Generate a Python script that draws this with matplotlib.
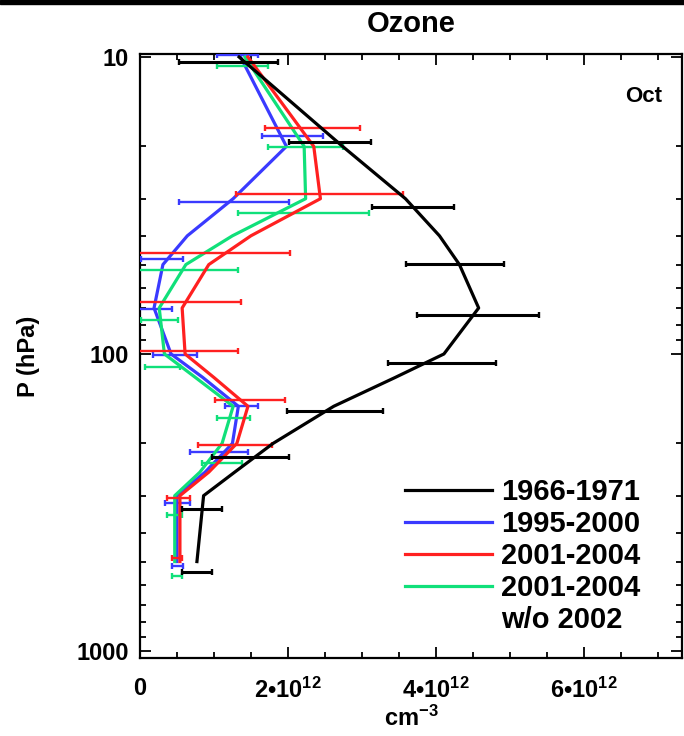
import matplotlib
matplotlib.use("Agg")
import matplotlib.pyplot as plt
import numpy as np
from matplotlib.lines import Line2D
from matplotlib.ticker import FixedLocator, NullFormatter

plt.rcParams["font.family"] = ["Liberation Sans", "DejaVu Sans"]
plt.rcParams["font.weight"] = "bold"
plt.rcParams["axes.titleweight"] = "bold"
plt.rcParams["axes.labelweight"] = "bold"
plt.rcParams["mathtext.fontset"] = "custom"
plt.rcParams["mathtext.rm"] = "Liberation Sans:bold"
plt.rcParams["mathtext.bf"] = "Liberation Sans:bold"
plt.rcParams["mathtext.default"] = "rm"

# pressure levels of the profiles (hPa) and ozone number density (1e12 cm^-3)
levels = [10, 20, 30, 40, 50, 70, 100, 120, 150, 200, 250, 300, 500]
ozone_1966 = [1.34, 2.74, 3.59, 4.05, 4.32, 4.58, 4.11, 3.45, 2.62, 1.80, 1.28, 0.86, 0.77]
ozone_1995 = [1.36, 1.98, 1.26, 0.64, 0.31, 0.19, 0.42, 0.85, 1.33, 1.25, 0.88, 0.50, 0.50]
ozone_2001 = [1.46, 2.35, 2.44, 1.50, 0.93, 0.57, 0.61, 1.00, 1.46, 1.31, 0.93, 0.54, 0.54]
ozone_2001_no02 = [1.42, 2.22, 2.24, 1.25, 0.62, 0.26, 0.33, 0.75, 1.26, 1.11, 0.81, 0.47, 0.47]

# error bars: pressure, low end, high end
err_p_1966 = [10.4, 19.3, 32, 49.8, 74, 107, 156, 222, 333, 541]
err_lo_1966 = [0.53, 2.02, 3.14, 3.60, 3.75, 3.36, 1.99, 0.98, 0.57, 0.57]
err_hi_1966 = [1.87, 3.12, 4.24, 4.92, 5.39, 4.81, 3.29, 2.02, 1.11, 0.98]

err_p_1995 = [9.85, 18.5, 30.8, 47.8, 70.5, 101, 150, 213, 318, 516]
err_lo_1995 = [1.04, 1.65, 0.53, 0.02, -0.05, 0.18, 1.15, 0.68, 0.34, 0.43]
err_hi_1995 = [1.60, 2.48, 2.02, 0.58, 0.43, 0.77, 1.60, 1.46, 0.68, 0.58]

err_p_2001 = [17.3, 29.0, 45.6, 66.9, 97.5, 143, 203, 305, 485]
err_lo_2001 = [1.69, 1.30, -0.17, -0.22, -0.11, 1.02, 0.79, 0.36, 0.43]
err_hi_2001 = [2.98, 3.56, 2.03, 1.36, 1.33, 1.96, 1.79, 0.68, 0.57]

err_p_no02 = [10.7, 20.1, 33.5, 52.2, 76.6, 111, 164, 233, 349, 561]
err_lo_no02 = [1.04, 1.73, 1.33, -0.09, 0.01, 0.07, 1.04, 0.84, 0.37, 0.43]
err_hi_no02 = [1.73, 2.74, 3.10, 1.33, 0.51, 0.54, 1.49, 1.38, 0.57, 0.57]

labels = ["1966-1971", "1995-2000", "2001-2004", "2001-2004"]
colors = ["black", "#3a3aff", "#ff2020", "#10e07a"]

x_ticks = [0, 2, 4, 6]
x_ticklabels = ["0", "2•10$^{12}$", "4•10$^{12}$", "6•10$^{12}$"]
y_ticks = [10, 100, 1000]
y_ticklabels = ["10", "100", "1000"]

fig = plt.figure(figsize=(6.84, 7.36), dpi=100)
ax = fig.add_axes([140 / 684, 1 - 658 / 736, 542 / 684, 604 / 736])

profiles = [ozone_1966, ozone_1995, ozone_2001, ozone_2001_no02]
errs = [
    (err_p_1966, err_lo_1966, err_hi_1966),
    (err_p_1995, err_lo_1995, err_hi_1995),
    (err_p_2001, err_lo_2001, err_hi_2001),
    (err_p_no02, err_lo_no02, err_hi_no02),
]
zorders = [5, 3, 4, 3.5]

for prof, (ep, lo, hi), col, z in zip(profiles, errs, colors, zorders):
    ax.plot(prof, levels, color=col, lw=2.3, zorder=z)
    lo = np.array(lo)
    hi = np.array(hi)
    mid = (lo + hi) / 2
    ax.errorbar(mid, ep, xerr=(hi - lo) / 2, fmt="none", ecolor=col,
                elinewidth=2.2 if col == "black" else 1.7, capsize=2.5,
                capthick=1.7, zorder=z)

ax.set_yscale("log")
ax.set_ylim(1056, 9.77)
ax.set_xlim(0, 7.33)

ax.xaxis.set_major_locator(FixedLocator(x_ticks))
ax.set_xticklabels(x_ticklabels)
ax.xaxis.set_minor_locator(FixedLocator(np.arange(0, 7.5, 0.5)))
ax.yaxis.set_major_locator(FixedLocator(y_ticks))
ax.set_yticklabels(y_ticklabels)
minor_y = [m * d for d in (10, 100) for m in range(2, 10)]
ax.yaxis.set_minor_locator(FixedLocator(minor_y))
ax.yaxis.set_minor_formatter(NullFormatter())

ax.tick_params(which="both", direction="in", top=True, right=True, width=1.3)
ax.tick_params(which="major", length=8, labelsize=17, pad=8)
ax.tick_params(axis="x", which="major", pad=14)
ax.tick_params(which="minor", length=4)
for s in ax.spines.values():
    s.set_linewidth(1.6)

ax.set_title("Ozone", fontsize=21, pad=16)
ax.set_xlabel("cm$^{-3}$", fontsize=17, labelpad=2)
ax.set_ylabel("P (hPa)", fontsize=17, labelpad=26)
ax.text(0.963, 0.929, "Oct", transform=ax.transAxes, ha="right", va="center", fontsize=16)

handles = [Line2D([], [], color=c, lw=2.3) for c in colors]
handles.append(Line2D([], [], linestyle="none"))
ax.legend(handles, labels + ["w/o 2002"], loc="lower right", frameon=False,
          fontsize=21, handlelength=3.0, handletextpad=0.3, labelspacing=0.14,
          borderaxespad=0.2, bbox_to_anchor=(0.955, 0.01))

fig.add_artist(plt.Rectangle((0, 1 - 4 / 736), 1, 4 / 736, transform=fig.transFigure,
                             color="black"))

fig.savefig("out.png", dpi=100)
